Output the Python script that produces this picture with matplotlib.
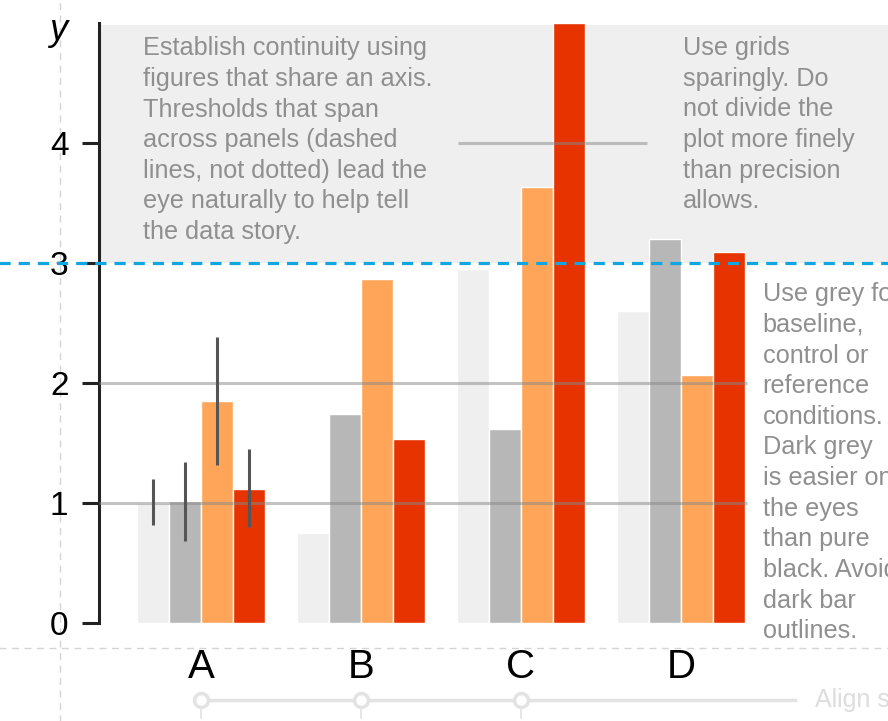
import matplotlib
matplotlib.use("Agg")
import matplotlib.pyplot as plt
import numpy as np

plt.rcParams['font.family'] = ['Liberation Sans', 'DejaVu Sans']

groups = ["A", "B", "C", "D"]
light = [1.0, 0.75, 2.95, 2.6]
grey = [1.02, 1.74, 1.62, 3.2]
orange = [1.85, 2.87, 3.63, 2.07]
red = [1.12, 1.53, 5.0, 3.09]
# error bars only on group A (low, high)
err_lo = [0.82, 0.68, 1.32, 0.80]
err_hi = [1.20, 1.34, 2.38, 1.45]

colors = ["#efefef", "#b7b7b7", "#fea55a", "#e63300"]
series = [light, grey, orange, red]

fig = plt.figure(figsize=(8.88, 7.21), dpi=100)
W, H = 888, 721
ax = fig.add_axes([99 / W, 98 / H, (W - 99) / W, 600 / H])
ax.set_xlim(-0.6375, (W - 201) / 160)
ax.set_ylim(0, 5.0)

# grey background band above threshold
ax.axhspan(3, 4.98, xmin=0.003, xmax=1, color="#efefef", zorder=0, lw=0)

x = np.arange(len(groups))
bw = 0.2
offs = [-0.3, -0.1, 0.1, 0.3]
for s, c, o in zip(series, colors, offs):
    ax.bar(x + o, s, width=bw, color=c, edgecolor="white", linewidth=1, zorder=2)

# error bars for group A
for i, o in enumerate(offs):
    ax.vlines(0 + o, err_lo[i], err_hi[i], color="#555555", lw=2.2, zorder=4)

# sparse grid lines
ax.hlines([1, 2], -0.6375, 3.41, color="#888888", alpha=0.5, lw=2.2, zorder=3)
ax.hlines(4, 1.606, 2.79, color="#888888", alpha=0.5, lw=2.2, zorder=3)

# threshold line spanning panels
ax.axhline(3, xmin=-0.2, xmax=1.2, color="#12a6e0", lw=2.3, ls=(0, (3.5, 2.5)),
           clip_on=False, zorder=5)

# layout guide lines
ax.axvline(-0.88, ymin=-0.3, ymax=1.2, color="#d4d4d4", lw=1, ls=(0, (5, 4)),
           clip_on=False, zorder=0)
ax.axhline(-0.208, xmin=-0.2, xmax=1.2, color="#d4d4d4", lw=1, ls=(0, (5, 4)),
           clip_on=False, zorder=0)

# bottom alignment track
ax.plot([0, 3.71], [-0.64, -0.64], color="#e3e3e3", lw=2.5, clip_on=False, zorder=1)
ax.plot([0, 1, 2], [-0.64] * 3, "o", ms=10, mfc="white", mec="#e3e3e3", mew=2.5,
        clip_on=False, zorder=2)
for xi in [0, 1, 2]:
    ax.plot([xi, xi], [-0.71, -0.79], color="#e3e3e3", lw=1.2, clip_on=False)
ax.text(3.84, -0.64, "Align s", color="#dddddd", fontsize=18, va="center",
        ha="left", clip_on=False)

# annotations
tcol = "#8f8f8f"
fs = 18.2
ls = 1.35
ax.text(-0.3625, 4.89, "Establish continuity using\nfigures that share an axis.\n"
        "Thresholds that span\nacross panels (dashed\nlines, not dotted) lead the\n"
        "eye naturally to help tell\nthe data story.",
        color=tcol, fontsize=fs, va="top", ha="left", linespacing=ls, zorder=6)
ax.text(3.01, 4.89, "Use grids\nsparingly. Do\nnot divide the\nplot more finely\n"
        "than precision\nallows.",
        color=tcol, fontsize=fs, va="top", ha="left", linespacing=ls, zorder=6)
ax.text(3.51, 2.84, "Use grey for\nbaseline,\ncontrol or\nreference\nconditions.\n"
        "Dark grey\nis easier on\nthe eyes\nthan pure\nblack. Avoid\ndark bar\noutlines.",
        color=tcol, fontsize=fs, va="top", ha="left", linespacing=ls, zorder=6)

# axis styling
for sp in ["top", "right", "bottom"]:
    ax.spines[sp].set_visible(False)
ax.spines["left"].set_linewidth(2.2)
ax.spines["left"].set_color("#222222")
ax.set_yticks([0, 1, 2, 3, 4])
ax.tick_params(axis="y", length=12, width=2.2, color="#222222", labelsize=24, pad=10)
ax.set_xticks(x)
ax.set_xticklabels(groups)
ax.tick_params(axis="x", length=0, labelsize=29, pad=18)
ax.text(-0.89, 4.94, "y", fontsize=26, style="italic", ha="center", va="center",
        clip_on=False)

fig.savefig("out.png", dpi=100)
